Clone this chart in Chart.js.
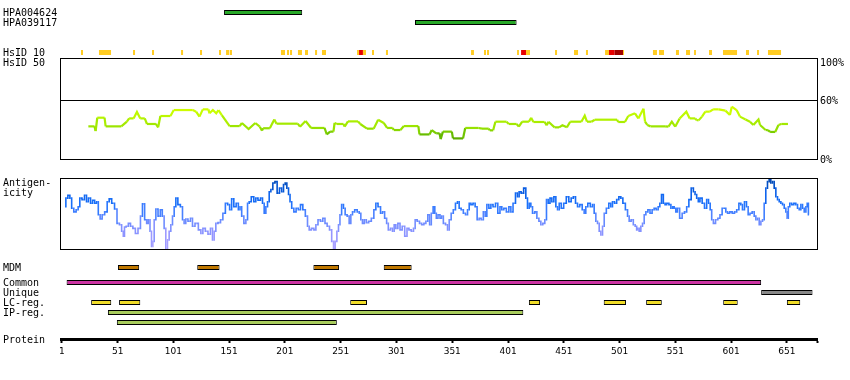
<!DOCTYPE html>
<html><head><meta charset="utf-8">
<script src="https://cdn.jsdelivr.net/npm/chart.js@4.4.1/dist/chart.umd.min.js"></script>
<style>
html,body{margin:0;padding:0;background:#fff;}
#wrap{position:relative;width:850px;height:380px;overflow:hidden;background:#fff;}
#wrap canvas{position:absolute;}
.lbl{position:absolute;font:10px/10px "DejaVu Sans Mono",monospace;color:#000;white-space:pre;}
</style></head>
<body><div id="wrap"></div>
<script>
// ---------------- DATA ----------------
const PROTEIN_LEN = 678;

const antibodies     = ['HPA004624', 'HPA039117'];
const antibodyStart  = [147, 318];
const antibodyEnd    = [217, 409];

const hsid10Start = [18.9,35,65.5,82.5,108.5,125.5,142.5,148.8,152.3,198,
                     203.4,206.1,213.2,219.5,228.5,234.7,266.1,267.9,271.4,279.5,
                     292,368.2,379.8,382.5,409.4,413,417.4,443.4,460.4,471.1,
                     488.2,491.7,496.8,504.3,531.1,536.5,551.7,560.7,567.9,581.3,
                     593.8,614.4,624.3,634.1];
const hsid10End   = [20.7,45.8,67.3,84.3,110.3,127.3,144.3,151.7,154.1,201.6,
                     205.2,207.9,216.8,222.2,230.3,238.3,267.9,271.4,274.1,281.3,
                     293.8,370.8,381.6,384.3,411.1,417.4,421,445.2,464,472.9,
                     491.7,496.8,504.3,505.2,534.7,541,554.4,564.3,569.6,584,
                     606.4,617.1,626.1,645.8];
const hsid10Level = ['y','y','y','y','y','y','y','y','y','y',
                     'y','y','y','y','y','y','y','r','y','y',
                     'y','y','y','y','y','r','y','y','y','y',
                     'y','r','d','y','y','y','y','y','y','y',
                     'y','y','y','y'];

const hsid50Res = [25.5,31,32,33.5,40,41,55,60,62,66,
                   69,72,76,78,86,88,90,99,102,119,
                   122,125,128,133,134,137,140,142,145,152,
                   161,163,169,175,179,181,182,188,192,194,
                   213,215,220,225,237,239,242,245,246,248,
                   254,255,258,267,269,275,281,285,290,293,
                   298,299,305,308,321,322,331,333,337,340,
                   341,343,351,352,361,363,375,378,384,385,
                   388,390,400,402,409,411,414,420,422,424,
                   434,436,437.5,443,447,450,454,457,467,470,
                   472,476,479,499,500,506,509,515,518,522.6,
                   524,526,529,542,545,548,551,555,561,564,
                   569,570,572,575,578,582,585,590,596,600,
                   601.7,606,609,614,618,621,625.6,627,632,634,
                   636,640.6,643.5,646,652];
const hsid50Val = [33.8,33.8,29.1,42.5,42.5,33.8,33.8,38.5,41.8,41.8,
                   48.3,41.8,41.8,36.2,36.2,32.8,44.2,44.2,50.2,50.2,
                   48.6,43.6,50.9,50.9,46.9,50.2,46.9,50.2,45.2,34.1,
                   34.1,37.2,31.2,37.2,33.5,29.5,31.9,31.9,40.8,36.5,
                   36.5,33.5,39.2,32.2,32.2,25.7,28.5,28.5,37.2,36.2,
                   36.2,33.5,38.8,38.8,36.2,31.5,31.5,40.5,37.2,32.2,
                   32.2,30.1,30.1,34.1,34.1,25.7,25.7,30.1,26.8,26.8,
                   21,28.5,28.5,21.7,21.7,32.2,32.2,31.5,31.5,29.8,
                   29.8,38.5,38.5,36.2,36.2,33.5,38.5,38.5,42.5,38.2,
                   38.2,34.9,38.5,32.8,32.8,34.9,32.8,38.5,38.5,44.5,
                   38.5,38.5,40.5,40.5,38.2,38.2,44.2,46.9,41.8,51.6,
                   38.5,35.2,33.8,33.8,33.5,38.5,33.5,41.8,48.6,41.8,
                   41.8,40.2,39.8,43.6,48.6,48.6,50.9,50.9,49.6,45.2,
                   53.6,50.2,43.6,40.8,38.5,35.2,40.8,35.2,30.1,30.1,
                   28.2,28.2,35.2,36.2,36.2];
const hsid50TickLabels = ['100%', '60%', '0%'];
const hsid50RefLines = [60];

const antigenRes = [4.6,6.1,8.2,9.7,11.4,13.5,15.6,17.1,18.6,21,
  23.1,24.6,26.4,28.5,30,32.3,33.5,35.3,36.8,38.9,
  41.3,43.4,44.9,47.9,50,52.3,54.4,56.2,57.4,58.3,
  60.4,62.2,64.3,66.4,68.8,71.1,73.2,74.7,77.1,78.3,
  80.1,81.3,82.8,83.7,85.2,86.7,89.1,90.8,92.6,94.1,
  95.6,97.1,98.6,100.1,101.6,103.1,104.6,106.7,109.1,110.5,
  112,113.5,115.9,118,119.5,122.5,125.5,127,129.1,131.4,
  133.8,135.9,137.4,138.9,140.4,142.8,144.9,147,149.4,151.1,
  152.9,154.7,156.8,158.9,160.7,161.9,163.7,165.8,167.3,168.8,
  170.2,172.6,174.7,176.2,178.6,180.7,182.2,183.7,185.2,186.7,
  188.2,189.7,191.7,193.5,195.6,197.7,199.5,201,202.5,204,
  205.5,206.7,208.5,210.5,212.6,214.4,216.5,218.6,221,222.5,
  224,226.4,228.5,230,232.3,234.4,236.5,238.3,240.4,242.5,
  244.3,245.8,247.3,248.8,250.2,251.4,253.2,254.7,256.2,258.3,
  259.8,261.3,262.8,265.2,267.3,268.8,270.2,271.7,273.5,275.3,
  277.7,280.1,282.2,283.7,286.1,288.2,289.6,292,293.2,295,
  297.1,298.6,300.1,301.6,303.7,305.5,307.6,310,311.7,313.5,
  315.9,317.4,318.9,321,323.1,324.9,
  327,328.5,330.5,331.7,333.5,335,336.5,337.7,339.5,341.3,
  342.5,344.3,346.4,347.9,349.4,351.4,353.2,355.3,356.8,358.3,
  360.4,362.2,364.3,365.8,367.3,368.8,371.1,372.6,374.7,376.2,
  378.3,380.1,381.6,383.1,385.2,386.7,389.1,391.1,393.2,395,
  396.5,398.6,401,403.1,404.6,407,409,410.5,412,414.1,
  416.5,418,419.5,421,422.5,424,426.4,427.9,430,431.4,
  433.5,435,436.5,438,439.8,441.3,443.4,444.9,446.4,447.9,
  450,452.3,454.7,456.8,458.9,460.7,462.8,464.3,466.7,468.8,
  470.2,471.7,473.8,476.2,477.7,479.2,480.7,482.2,483.7,485.2,
  486.7,488.2,490.5,492.6,494.1,495.6,497.7,499.5,501.6,503.1,
  505.2,507.6,509.1,510.5,512.6,514.4,515.9,517.1,518,519.5,
  521,522.5,524,525.5,527.6,529.3,531.4,532.9,535,536.5,
  538,539.5,541.3,542.5,544.3,546.4,547.9,549.4,550.8,552.3,
  553.8,556.2,558.3,560.4,562.2,564.3,566.4,568.2,569.4,571.1,
  572.3,574.1,576.2,578.3,580.1,581.6,583.1,584.3,586.1,588.2,
  590.2,592,594.1,595.6,597.1,598.6,601,603.1,605.2,607,
  609.1,610.5,612,614.1,615.6,617.1,618.9,621,622.5,624,
  625.5,627,628.5,630,631.4,632.9,634.4,635.9,637.4,638.9,
  640.4,641.9,643.4,644.9,646.4,647.9,649.4,650.8,651.7,652.9,
  654.4,656.2,658.3,659.8,661.3,662.8,664.3,665.8,667.3,668.8,
  669.7,670.9];
const antigenVal = [60,72,76,72,58,53,56,60,72,70,
  76,67,72,65,69,65,67,49,43,49,
  53,67,71,65,57,37,35,26,19,32,
  33,37,33,30,23,30,47,64,42,37,
  42,26,5,12,42,57,47,56,47,30,
  0,14,26,35,47,60,72,63,60,42,
  37,43,40,44,33,37,28,23,30,26,
  22,30,14,26,37,38,42,51,65,63,
  56,71,60,65,56,60,47,37,42,65,
  67,74,67,72,69,72,65,51,60,67,
  81,84,93,95,79,86,81,91,93,86,
  77,67,58,53,58,56,63,56,47,33,
  28,30,28,35,42,40,44,37,33,28,
  12,2,12,26,35,49,63,58,49,47,
  37,49,53,56,53,51,42,37,42,38,
  40,44,56,65,60,51,53,44,37,28,
  30,26,35,30,37,28,33,19,30,28,
  26,30,42,40,37,35,
  37,40,49,35,51,60,51,44,49,44,
  47,37,35,28,42,51,56,65,67,58,
  56,51,49,56,65,63,65,60,42,44,
  42,53,47,63,58,63,60,65,51,60,
  56,58,53,60,53,65,79,74,81,79,
  86,72,58,65,60,51,53,44,40,35,
  37,42,70,65,72,67,74,60,56,65,
  58,65,74,67,72,74,65,60,63,56,
  51,60,65,60,63,51,40,37,26,21,
  33,51,58,65,60,67,65,70,74,72,
  65,56,47,40,42,35,33,28,30,26,
  33,37,49,53,56,51,56,58,56,60,
  65,77,65,63,65,63,58,60,58,53,
  58,44,51,53,60,70,86,81,77,72,
  67,72,65,58,70,65,56,42,37,42,
  44,49,58,58,53,51,53,51,53,56,
  65,63,56,67,60,49,51,53,47,42,
  44,35,40,42,65,86,95,98,93,95,
  86,74,70,67,65,63,58,53,44,60,
  65,63,65,63,58,56,63,58,53,60,
  65,49];

const mdmStart = [52, 123, 227, 290];
const mdmEnd   = [71, 143, 250, 315];

const featureRows  = ['Common', 'Unique', 'LC-reg.', 'IP-reg.', 'IP-reg. (2)'];
const featureRow   = ['Common', 'Unique', 'LC-reg.', 'LC-reg.', 'LC-reg.', 'LC-reg.', 'LC-reg.', 'LC-reg.', 'LC-reg.', 'LC-reg.', 'IP-reg.', 'IP-reg. (2)'];
const featureStart = [6, 628, 28, 53, 260, 420, 487, 525, 594, 651, 43, 51];
const featureEnd   = [628, 674, 46, 72, 275, 430, 507, 539, 607, 663, 415, 248];

const proteinTicks = [1, 51, 101, 151, 201, 251, 301, 351, 401, 451, 501, 551, 601, 651];

// ---------------- STYLE / HELPERS ----------------
Chart.defaults.font.family = 'DejaVu Sans';
const wrap = document.getElementById('wrap');
const X_LEFT = 56, X_WIDTH = 766;            // chart area spans 61..817

function makeCanvas(left, top, w, h) {
  const c = document.createElement('canvas');
  c.width = w; c.height = h;
  c.style.left = left + 'px'; c.style.top = top + 'px';
  c.style.width = w + 'px'; c.style.height = h + 'px';
  wrap.appendChild(c);
  return c;
}
function label(text, left, centerY) {
  const d = document.createElement('div');
  d.className = 'lbl'; d.textContent = text;
  d.style.left = left + 'px'; d.style.top = (centerY - 5) + 'px';
  wrap.appendChild(d);
}
function ramp(stops, v) {
  if (v <= stops[0][0]) { const c = stops[0][1]; return `rgb(${c[0]},${c[1]},${c[2]})`; }
  for (let i = 1; i < stops.length; i++) {
    if (v <= stops[i][0]) {
      const [v0, c0] = stops[i-1], [v1, c1] = stops[i];
      const t = (v - v0) / (v1 - v0);
      const c = c0.map((x, k) => Math.round(x + (c1[k] - x) * t));
      return `rgb(${c[0]},${c[1]},${c[2]})`;
    }
  }
  const c = stops[stops.length-1][1];
  return `rgb(${c[0]},${c[1]},${c[2]})`;
}
const greenStops = [[20,[85,165,0]],[26,[105,190,0]],[32,[150,226,0]],[40,[175,240,0]],[48,[200,255,0]],[54,[215,248,0]]];
const blueStops  = [[0,[178,166,255]],[20,[150,150,255]],[40,[110,140,255]],[55,[60,125,255]],[65,[25,112,250]],[80,[10,95,232]],[95,[0,72,180]]];

function baseOptions(pad) {
  return {
    responsive: false, animation: false, events: [],
    layout: {padding: pad},
    plugins: {legend: {display: false}, tooltip: {enabled: false}}
  };
}

const framePlugin = {
  id: 'frame',
  beforeDatasetsDraw(chart, args, opts) {
    if (!opts.refLines) return;
    const {ctx, chartArea: a} = chart;
    const ys = chart.scales.y;
    ctx.save(); ctx.strokeStyle = '#000'; ctx.lineWidth = 1;
    opts.refLines.forEach(v => {
      const y = Math.round(ys.getPixelForValue(v)) + 0.5;
      ctx.beginPath(); ctx.moveTo(a.left, y); ctx.lineTo(a.right, y); ctx.stroke();
    });
    ctx.restore();
  },
  afterDraw(chart, args, opts) {
    if (!opts.box) return;
    const {ctx, chartArea: a} = chart;
    ctx.save(); ctx.strokeStyle = '#000'; ctx.lineWidth = 1;
    ctx.strokeRect(a.left - 0.5, a.top + 0.5, a.right - a.left + 1, a.bottom - a.top - 1);
    ctx.restore();
  }
};

function track(top, h, rows, items, thick, border, colorOf) {
  const c = makeCanvas(X_LEFT, top, X_WIDTH, h);
  return new Chart(c, {
    type: 'bar',
    data: {
      labels: rows,
      datasets: [{
        data: items.map(it => ({x: [it.s, it.e], y: it.row})),
        backgroundColor: items.map(colorOf),
        borderColor: '#000', borderWidth: border, borderSkipped: false,
        barThickness: thick, grouped: false, inflateAmount: 0
      }]
    },
    options: Object.assign(baseOptions({left: 5, right: 5, top: 0.5, bottom: 0.5}), {
      indexAxis: 'y',
      scales: {
        x: {type: 'linear', min: 1, max: PROTEIN_LEN, display: false},
        y: {type: 'category', labels: rows, display: false}
      }
    })
  });
}

function profile(top, h, res, val, yMax, stops, width, stepped, refLines) {
  const c = makeCanvas(X_LEFT, top, X_WIDTH, h);
  const n = Math.min(res.length, val.length);
  const pts = [];
  for (let i = 0; i < n; i++) pts.push({x: res[i], y: val[i]});
  return new Chart(c, {
    type: 'line',
    data: {datasets: [{
      data: pts, borderWidth: width, pointRadius: 0, tension: 0, stepped: stepped,
      borderColor: ramp(stops, 40),
      segment: {borderColor: ctx => ramp(stops, (ctx.p0.parsed.y + ctx.p1.parsed.y) / 2)}
    }]},
    options: Object.assign(baseOptions({left: 5, right: 5, top: 4, bottom: 6}), {
      scales: {
        x: {type: 'linear', min: 1, max: PROTEIN_LEN, display: false},
        y: {type: 'linear', min: 0, max: yMax, display: false}
      },
      plugins: {legend: {display: false}, tooltip: {enabled: false},
                frame: {box: true, refLines: refLines}}
    }),
    plugins: [framePlugin]
  });
}

// ---------------- CHARTS ----------------
// antibody epitopes
track(7, 21, antibodies,
  antibodies.map((a, i) => ({row: a, s: antibodyStart[i], e: antibodyEnd[i]})),
  5, 1, () => '#28a828');

// HsID 10
const hsid10Colors = {y: '#ffcc22', r: '#e60000', d: '#a00000'};
track(47, 11, ['HsID 10'],
  hsid10Start.map((s, i) => ({row: 'HsID 10', s: s, e: hsid10End[i], lv: hsid10Level[i]})),
  5, 0, it => hsid10Colors[it.lv]);

// HsID 50 profile
profile(54, 112, hsid50Res, hsid50Val, 102.5, greenStops, 2.2, false, hsid50RefLines);

// Antigenicity profile
profile(174, 82, antigenRes, antigenVal, 100, blueStops, 1.6, 'middle', null);

// MDM
track(262, 11, ['MDM'],
  mdmStart.map((s, i) => ({row: 'MDM', s: s, e: mdmEnd[i]})),
  5, 1, () => '#c07800');

// Features
const featureColors = {'Common': '#cc33a3', 'Unique': '#888888', 'LC-reg.': '#f0dc28', 'IP-reg.': '#a8cc5c', 'IP-reg. (2)': '#a8cc5c'};
track(277, 51, featureRows,
  featureStart.map((s, i) => ({row: featureRow[i], s: s, e: featureEnd[i]})),
  5, 1, it => featureColors[it.row]);

// Protein axis
(function () {
  const c = makeCanvas(X_LEFT, 319, X_WIDTH, 45);
  new Chart(c, {
    type: 'line',
    data: {datasets: []},
    options: Object.assign(baseOptions({left: 5, right: 5, top: 0, bottom: 0}), {
      scales: {
        x: {
          type: 'linear', position: 'bottom', min: 1, max: PROTEIN_LEN,
          afterBuildTicks: s => {
            s.ticks = proteinTicks.map(v => ({value: v})).concat([{value: PROTEIN_LEN}]);
          },
          afterFit: s => { s.height = 25; },
          border: {display: true, width: 3, color: '#000'},
          grid: {display: true, drawOnChartArea: false, drawTicks: true, tickLength: 4, tickWidth: 2, tickColor: '#000', color: '#000'},
          ticks: {
            autoSkip: false, maxRotation: 0, padding: 3, color: '#000',
            font: {family: 'DejaVu Sans', size: 9},
            callback: v => proteinTicks.includes(v) ? String(v) : ''
          }
        },
        y: {display: false}
      }
    })
  });
})();

// ---------------- TEXT ----------------
label(antibodies[0], 3, 12.5);
label(antibodies[1], 3, 22.5);
label('HsID 10', 3, 52.5);
label('HsID 50', 3, 63);
label(hsid50TickLabels[0], 820, 63);
label(hsid50TickLabels[1], 820, 100.5);
label(hsid50TickLabels[2], 820, 160);
label('Antigen-', 3, 183);
label('icity', 3, 193);
label('MDM', 3, 268);
featureRows.slice(0, 4).forEach((r, i) => label(r, 3, 282.5 + 10 * i));
label('Protein', 3, 340);
</script>
</body></html>
